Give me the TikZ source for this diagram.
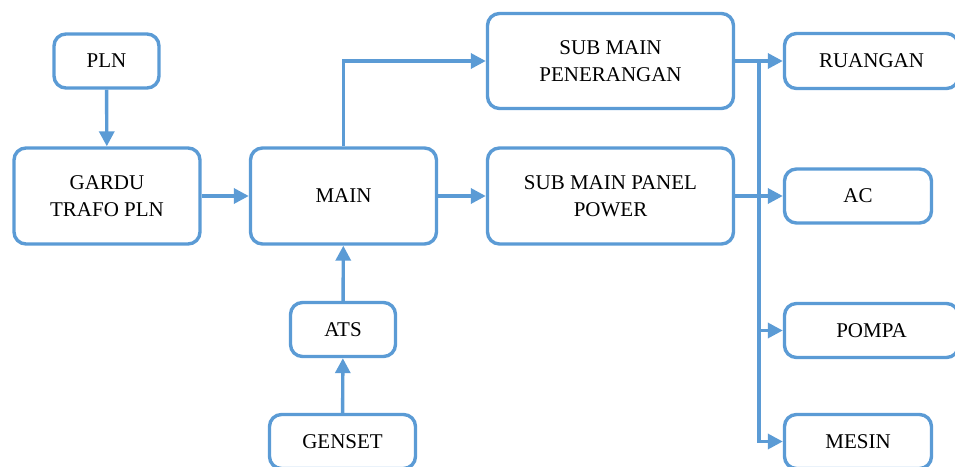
\documentclass[tikz,border=0pt]{standalone}
\usepackage{fontspec}
\setmainfont{Liberation Serif}
\usetikzlibrary{arrows.meta}
\definecolor{boxblue}{HTML}{5B9BD5}
\begin{document}
\begin{tikzpicture}[x=1pt,y=-1pt,
  box/.style={draw=boxblue, line width=3.4pt, rounded corners=12pt,
    align=center, inner sep=0pt, text=black,
    font=\fontsize{21}{26.5}\selectfont},
  arr/.style={draw=boxblue, line width=3.4pt,
    -{Triangle[length=15pt,width=15pt]}}]
  \useasboundingbox (0,0) rectangle (955,466);
  \clip (0,0) rectangle (955,466);

  % supply side
  \node[box, minimum width=105pt, minimum height=54pt] (pln) at (106.5,61) {PLN};
  \node[box, minimum width=186pt, minimum height=96pt] (gardu) at (107,196) {GARDU\\TRAFO PLN};
  \node[box, minimum width=186pt, minimum height=96pt] (main) at (343.5,196) {MAIN};
  \node[box, minimum width=105pt, minimum height=54pt] (ats) at (343,329.5) {ATS};
  \node[box, minimum width=146pt, minimum height=54pt] (genset) at (342.5,441.5) {GENSET};

  % sub main panels
  \node[box, minimum width=246pt, minimum height=95pt] (subpen) at (610.5,61) {SUB MAIN\\PENERANGAN};
  \node[box, minimum width=246pt, minimum height=96pt] (subpow) at (610.5,196) {SUB MAIN PANEL\\POWER};

  % loads
  \node[box, minimum width=174pt, minimum height=55pt] (ruangan) at (871.5,61) {RUANGAN};
  \node[box, minimum width=147pt, minimum height=54pt] (ac) at (858,196) {AC};
  \node[box, minimum width=174pt, minimum height=54pt] (pompa) at (871.5,330.5) {POMPA};
  \node[box, minimum width=147pt, minimum height=54pt] (mesin) at (858,441.5) {MESIN};

  % connectors
  \draw[arr] (pln) -- (gardu);
  \draw[arr] (gardu) -- (main);
  \draw[arr] (main) -- (subpow);
  \draw[arr] (main.north) |- (subpen.west);
  \draw[arr] (ats) -- (main);
  \draw[arr] (genset) -- (ats);

  % distribution bus
  \coordinate (busx) at (759,0);
  \draw[arr] (subpen.east) -- (subpen.east -| ruangan.west);
  \draw[arr] (subpow.east) -- (subpow.east -| ac.west);
  \draw[arr] (busx |- subpen.east) |- (mesin.west);
  \draw[arr] (busx |- pompa.west) -- (pompa.west);
\end{tikzpicture}
\end{document}
